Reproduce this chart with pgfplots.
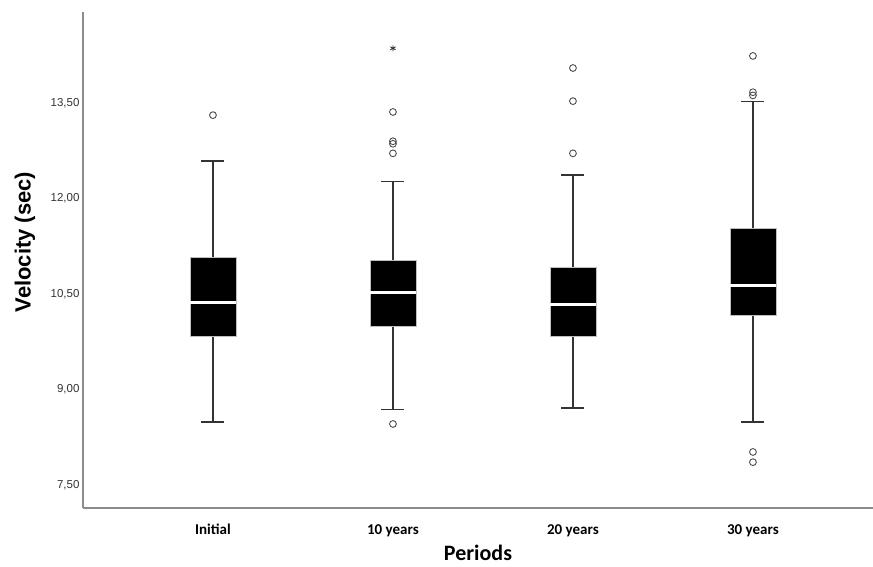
\documentclass[border=0pt]{standalone}
\usepackage{fontspec}
\usepackage{pgfplots}
\pgfplotsset{compat=1.18}
\usepgfplotslibrary{statistics}
\newfontfamily\arial{Liberation Sans}
\newfontfamily\calibri{Carlito}
\begin{document}
\begin{tikzpicture}
\useasboundingbox (-83pt,-59pt) rectangle (790pt,508pt);
\begin{axis}[
  at={(0pt,0pt)}, anchor=south west,
  scale only axis, width=790pt, height=496pt,
  xmin=-0.722, xmax=3.667, ymin=7.14, ymax=14.93,
  axis x line*=bottom, axis y line*=left,
  axis line style={draw=black!45, line width=1.1pt},
  xtick={0,1,2,3}, xticklabels={Initial,10 years,20 years,30 years},
  ytick={7.5,9,10.5,12,13.5},
  yticklabels={{7,50},{9,00},{10,50},{12,00},{13,50}},
  major tick length=0pt,
  tick style={draw=none},
  yticklabel style={font=\arial\fontsize{11.5}{13}\selectfont, text=black!80},
  xticklabel style={font=\calibri\bfseries\fontsize{15}{17}\selectfont, anchor=base, yshift=-27pt},
  xlabel={Periods}, ylabel={Velocity (sec)},
  xlabel style={font=\calibri\bfseries\fontsize{22}{26}\selectfont, at={(axis description cs:0.5,0)}, anchor=base, yshift=-53pt},
  ylabel style={font=\arial\bfseries\fontsize{22}{26}\selectfont, at={(axis description cs:-0.0734,0.536)}, anchor=center},
  boxplot/draw direction=y,
  boxplot/box extend=0.256,
  boxplot/whisker extend=0.128,
  boxplot/every box/.style={draw=black!25, fill=black, line width=0.5pt},
  boxplot/every median/.style={draw=white, line width=3pt},
  boxplot/every whisker/.style={draw=black!80, line width=1.3pt},
  clip=false,
]
\addplot[boxplot prepared={draw position=0, lower whisker=8.49, lower quartile=9.84, median=10.36, upper quartile=11.08, upper whisker=12.59}] coordinates {};
\addplot[boxplot prepared={draw position=1, lower whisker=8.69, lower quartile=10.00, median=10.53, upper quartile=11.03, upper whisker=12.27}] coordinates {};
\addplot[boxplot prepared={draw position=2, lower whisker=8.71, lower quartile=9.84, median=10.33, upper quartile=10.92, upper whisker=12.37}] coordinates {};
\addplot[boxplot prepared={draw position=3, lower whisker=8.49, lower quartile=10.17, median=10.64, upper quartile=11.54, upper whisker=13.52}] coordinates {};
\addplot[only marks, mark=o, mark size=3.4pt, draw=black!70, mark options={line width=0.9pt}] coordinates {
  (0,13.31)
  (1,13.36) (1,12.90) (1,12.86) (1,12.71) (1,8.46)
  (2,14.05) (2,13.53) (2,12.71)
  (3,14.24) (3,13.67) (3,13.62) (3,8.02) (3,7.86)
};
\addplot[only marks, mark=asterisk, mark size=3pt, draw=black!80, mark options={line width=0.9pt}] coordinates {(1,14.36)};
\end{axis}
\end{tikzpicture}
\end{document}
